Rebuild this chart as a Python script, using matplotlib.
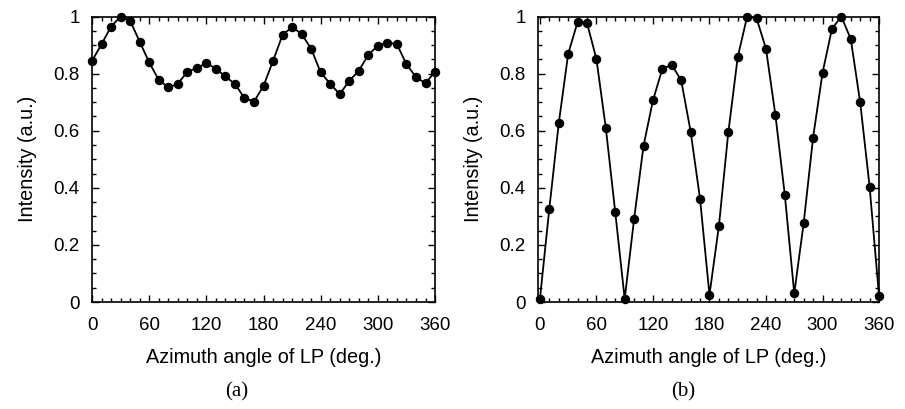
import numpy as np
import matplotlib
matplotlib.use("Agg")
import matplotlib.pyplot as plt
from matplotlib.ticker import MultipleLocator, FixedLocator, FixedFormatter

plt.rcParams['font.family'] = ['Liberation Sans', 'DejaVu Sans']

# ==========================
# Data
# ==========================
angle = list(range(0, 361, 10))

intensity_a = [0.845, 0.903, 0.965, 1.000, 0.985, 0.912, 0.839, 0.778, 0.752, 0.764,
               0.807, 0.819, 0.837, 0.817, 0.790, 0.764, 0.714, 0.702, 0.757, 0.845,
               0.936, 0.963, 0.939, 0.887, 0.804, 0.764, 0.728, 0.775, 0.810, 0.866,
               0.898, 0.909, 0.903, 0.833, 0.788, 0.766, 0.807]

intensity_b = [0.010, 0.327, 0.626, 0.869, 0.981, 0.977, 0.851, 0.609, 0.314, 0.011,
               0.291, 0.547, 0.706, 0.817, 0.831, 0.776, 0.597, 0.361, 0.025, 0.266,
               0.594, 0.858, 1.000, 0.994, 0.887, 0.655, 0.375, 0.030, 0.276, 0.576,
               0.802, 0.957, 1.000, 0.921, 0.699, 0.404, 0.021]

x_ticks = [0, 60, 120, 180, 240, 300, 360]
y_ticks = [0, 0.2, 0.4, 0.6, 0.8, 1.0]
y_tick_labels = ['0', '0.2', '0.4', '0.6', '0.8', '1']
panel_labels = ['(a)', '(b)']

# ==========================
# Plot
# ==========================
fig = plt.figure(figsize=(9.05, 4.09), dpi=100)
ax_a = fig.add_axes([0.1017, 0.2616, 0.379, 0.698])
ax_b = fig.add_axes([0.5945, 0.2616, 0.3768, 0.698])

for ax, y, lab, xlo, lab_x in [(ax_a, intensity_a, panel_labels[0], 0, 0.262),
                               (ax_b, intensity_b, panel_labels[1], -2, 0.755)]:
    ax.plot(angle, y, '-o', color='black', linewidth=1.3,
            markersize=5.8, clip_on=False, zorder=3)
    ax.set_xlim(xlo, 360)
    ax.set_ylim(0, 1)

    ax.xaxis.set_major_locator(FixedLocator(x_ticks))
    ax.xaxis.set_minor_locator(MultipleLocator(10))
    ax.yaxis.set_major_locator(FixedLocator(y_ticks))
    ax.yaxis.set_major_formatter(FixedFormatter(y_tick_labels))
    ax.yaxis.set_minor_locator(MultipleLocator(0.05))

    ax.tick_params(which='both', direction='in', top=True, right=True,
                   labelsize=13.5, width=1.0)
    ax.tick_params(which='major', length=5)
    ax.tick_params(which='minor', length=3)
    ax.tick_params(axis='x', pad=11)
    ax.tick_params(axis='y', pad=9)
    for s in ax.spines.values():
        s.set_linewidth(1.2)

    ax.set_xlabel("Azimuth angle of LP (deg.)", fontsize=14.3, labelpad=10)
    ax.set_ylabel("Intensity (a.u.)", fontsize=14.3, labelpad=12)
    fig.text(lab_x, 0.042, lab, ha='center', va='center',
             fontsize=15, family=['Liberation Serif', 'DejaVu Serif'])

fig.savefig('out.png', dpi=100)
